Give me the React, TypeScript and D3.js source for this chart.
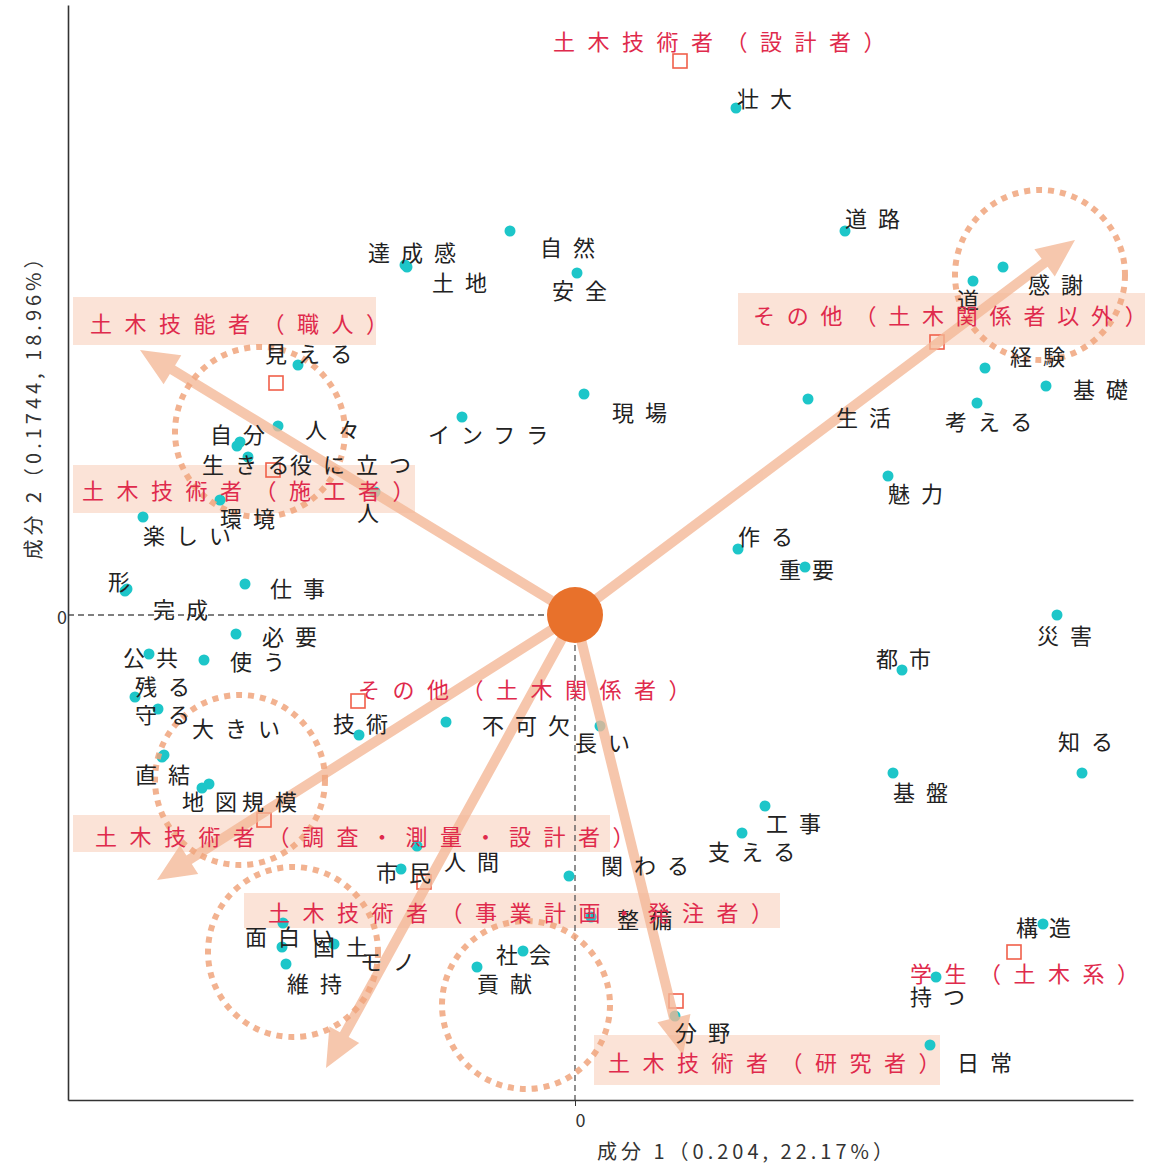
import { useEffect, useRef } from "react";
import * as d3 from "d3";

const WIDTH = 1151;
const HEIGHT = 1165;

// terms (teal points): component 1 / component 2 scores
const words = [
  "壮大", "道路", "達成感", "土地", "自然", "安全", "見える", "人々", "自分", "生きる",
  "役に立つ", "人", "環境", "楽しい", "インフラ", "現場", "生活", "考える", "経験", "基礎",
  "感謝", "道", "魅力", "作る", "重要", "形", "仕事", "完成", "必要", "公共",
  "使う", "残る", "守る", "大きい", "直結", "地図", "規模", "技術", "不可欠", "長い",
  "市民", "人間", "関わる", "支える", "工事", "整備", "社会", "貢献", "面白い", "国土",
  "モノ", "維持", "分野", "日常", "持つ", "構造", "基盤", "知る", "都市", "災害",
];
const wordX = [
  0.805, 1.35, -0.85, -0.84, -0.325, 0.01, -1.385, -1.485, -1.69, -1.635,
  -1.675, -1.0, -1.775, -2.16, -0.565, 0.045, 1.165, 2.01, 2.05, 2.355,
  2.14, 1.99, 1.565, 0.815, 1.15, -2.25, -1.65, -2.24, -1.695, -2.13,
  -1.855, -2.2, -2.085, -2.055, -2.065, -1.865, -1.83, -1.08, -0.645, 0.125,
  -0.87, -0.79, -0.03, 0.835, 0.95, 0.08, -0.26, -0.49, -1.46, -1.465,
  -1.205, -1.445, 0.5, 1.775, 1.805, 2.34, 1.59, 2.535, 1.635, 2.41,
];
const wordY = [
  2.535, 1.92, 1.75, 1.74, 1.92, 1.71, 1.25, 0.945, 0.845, 0.79,
  0.865, 0.615, 0.575, 0.49, 0.99, 1.105, 1.08, 1.06, 1.235, 1.145,
  1.74, 1.67, 0.695, 0.33, 0.24, 0.12, 0.155, 0.13, -0.095, -0.195,
  -0.225, -0.41, -0.47, -0.7, -0.71, -0.865, -0.845, -0.6, -0.535, -0.555,
  -1.27, -1.155, -1.305, -1.09, -0.955, -1.51, -1.68, -1.76, -1.54, -1.66,
  -1.645, -1.745, -2.005, -2.15, -1.81, -1.545, -0.79, -0.79, -0.275, 0.0,
];

// respondent groups (red squares)
const categories = [
  "土木技術者（設計者）",
  "土木技能者（職人）",
  "土木技術者（施工者）",
  "その他（土木関係者以外）",
  "その他（土木関係者）",
  "土木技術者（調査・測量・設計者）",
  "土木技術者（事業計画・発注者）",
  "土木技術者（研究者）",
  "学生（土木系）",
];
const categoryX = [0.525, -1.495, -1.51, 1.81, -1.085, -1.555, -0.755, 0.505, 2.195];
const categoryY = [2.77, 1.16, 0.725, 1.365, -0.43, -1.025, -1.335, -1.93, -1.685];

const xTitle = "成分 1（0.204,  22.17%）";
const yTitle = "成分 2（0.1744,  18.96%）";

// annotations drawn over the map
const arrowTips = [
  { x: -2.175, y: 1.325 },
  { x: 2.5, y: 1.875 },
  { x: -2.09, y: -1.325 },
  { x: -1.245, y: -2.265 },
  { x: 0.54, y: -2.2 },
];
const rings = [
  { x: -1.575, y: 0.915, r: 0.425 },
  { x: 2.325, y: 1.7, r: 0.425 },
  { x: -1.675, y: -0.825, r: 0.425 },
  { x: -1.41, y: -1.685, r: 0.425 },
  { x: -0.245, y: -1.95, r: 0.42 },
];
const bands = [
  { x0: -2.51, x1: -0.995, y0: 1.59, y1: 1.35 },
  { x0: -2.51, x1: -0.8, y0: 0.75, y1: 0.51 },
  { x0: 0.815, x1: 2.85, y0: 1.61, y1: 1.35 },
  { x0: -2.51, x1: 0.175, y0: -1.0, y1: -1.185 },
  { x0: -1.655, x1: 1.025, y0: -1.39, y1: -1.565 },
  { x0: 0.095, x1: 1.825, y0: -2.1, y1: -2.35 },
];

// label placement (pixel offset of the text start from its point)
const wordNudge: Record<string, [number, number]> = {
  壮大: [1, -11], 道路: [0, -14], 達成感: [-37, -14], 土地: [25, 14], 自然: [30, 15],
  安全: [-25, 16], 見える: [-33, -13], 人々: [27, 2], 自分: [-27, -13], 生きる: [-46, 6],
  役に立つ: [50, 21], 人: [-18, 19], 環境: [0, 17], 楽しい: [0, 17], インフラ: [-34, 16],
  現場: [28, 17], 生活: [28, 17], 考える: [-32, 17], 経験: [25, -13], 基礎: [27, 2],
  感謝: [25, 16], 道: [-16, 17], 魅力: [0, 16], 作る: [0, -14], 重要: [-26, 1],
  形: [-17, -11], 仕事: [25, 3], 完成: [26, 19], 必要: [26, 1], 公共: [-26, 2],
  使う: [26, 0], 残る: [0, -12], 守る: [-23, 4], 大きい: [28, -28], 直結: [-27, 16],
  地図: [-20, 12], 規模: [33, 16], 技術: [-26, -13], 不可欠: [36, 2], 長い: [-25, 15],
  市民: [-25, 2], 人間: [27, 14], 関わる: [32, -12], 支える: [-34, 17], 工事: [1, 16],
  整備: [26, 1], 社会: [-27, 2], 貢献: [0, 15], 面白い: [-38, 12], 国土: [31, -2],
  モノ: [26, 16], 維持: [1, 18], 分野: [0, 15], 日常: [27, 16], 持つ: [-26, 18],
  構造: [-27, 2], 基盤: [0, 18], 知る: [-24, -33], 都市: [-26, -13], 災害: [-20, 19],
};
const categoryNudge: [number, number][] = [
  [-127, -21], [-186, -61], [-191, 19], [-184, -28], [0, -13],
  [-169, 15], [-156, 29], [-68, 60], [-104, 20],
];
// the group label that runs to the right edge gets a slightly tighter spacing
const categorySpacing = [12.5, 12.5, 12.5, 11.8, 12.5, 12.5, 12.5, 12.5, 12.5];

const FONT = '"Noto Sans CJK JP", "Noto Sans", sans-serif';

export default function App() {
  const svgRef = useRef<SVGSVGElement>(null);

  useEffect(() => {
    if (!svgRef.current) return;
    const svg = d3.select(svgRef.current);
    svg.selectAll("*").remove();

    const x = d3.scaleLinear().domain([-2.535, 2.79]).range([68, 1133]);
    const y = d3.scaleLinear().domain([-2.425, 3.05]).range([1100, 5]);
    const ox = x(0);
    const oy = y(0);

    const wordData = words.map((word, i) => ({ word, x: wordX[i], y: wordY[i] }));
    const catData = categories.map((label, i) => ({ label, x: categoryX[i], y: categoryY[i], i }));

    // highlight bands
    svg
      .append("g")
      .selectAll("rect")
      .data(bands)
      .join("rect")
      .attr("x", (b) => x(b.x0))
      .attr("y", (b) => y(b.y0))
      .attr("width", (b) => x(b.x1) - x(b.x0))
      .attr("height", (b) => y(b.y1) - y(b.y0))
      .attr("fill", "#fbe3d7");

    // zero reference lines
    svg
      .append("line")
      .attr("x1", x.range()[0])
      .attr("x2", ox)
      .attr("y1", oy)
      .attr("y2", oy)
      .attr("stroke", "#555")
      .attr("stroke-width", 1.3)
      .attr("stroke-dasharray", "6,4");
    svg
      .append("line")
      .attr("x1", ox)
      .attr("x2", ox)
      .attr("y1", oy)
      .attr("y2", y.range()[0])
      .attr("stroke", "#555")
      .attr("stroke-width", 1.3)
      .attr("stroke-dasharray", "6,4");

    // axes
    svg
      .append("g")
      .attr("transform", `translate(0,${y.range()[0]})`)
      .call(
        d3.axisBottom(x).tickValues([0]).tickFormat(d3.format("d")).tickSizeOuter(0).tickSizeInner(6).tickPadding(8)
      )
      .call((g) => g.select("path").attr("stroke", "#333").attr("stroke-width", 1.6))
      .call((g) => g.selectAll("line").attr("stroke", "#333"))
      .call((g) =>
        g.selectAll("text").attr("font-size", 18).attr("font-family", FONT).attr("fill", "#333").attr("dx", 5)
      );
    svg
      .append("g")
      .attr("transform", `translate(${x.range()[0]},0)`)
      .call(d3.axisLeft(y).tickValues([0]).tickFormat(d3.format("d")).tickSizeOuter(0).tickSizeInner(0).tickPadding(1))
      .call((g) => g.select("path").attr("stroke", "#333").attr("stroke-width", 1.6))
      .call((g) =>
        g.selectAll("text").attr("font-size", 18).attr("font-family", FONT).attr("fill", "#333").attr("dy", "0.45em")
      );

    svg
      .append("text")
      .attr("x", 747)
      .attr("y", 1150)
      .attr("text-anchor", "middle")
      .attr("dominant-baseline", "central")
      .attr("font-family", FONT)
      .attr("font-size", 20)
      .attr("letter-spacing", 4)
      .attr("fill", "#333")
      .text(xTitle);
    svg
      .append("text")
      .attr("transform", "translate(32,402) rotate(-90)")
      .attr("text-anchor", "middle")
      .attr("dominant-baseline", "central")
      .attr("font-family", FONT)
      .attr("font-size", 20)
      .attr("letter-spacing", 4)
      .attr("fill", "#333")
      .text(yTitle);

    // term points
    svg
      .append("g")
      .selectAll("circle")
      .data(wordData)
      .join("circle")
      .attr("cx", (d) => x(d.x))
      .attr("cy", (d) => y(d.y))
      .attr("r", 5.5)
      .attr("fill", "#1dc6c9");

    // group points
    svg
      .append("g")
      .selectAll("rect")
      .data(catData)
      .join("rect")
      .attr("x", (d) => x(d.x) - 7)
      .attr("y", (d) => y(d.y) - 7)
      .attr("width", 14)
      .attr("height", 14)
      .attr("fill", "none")
      .attr("stroke", "#f0604a")
      .attr("stroke-width", 1.6);

    // arrows from the origin
    const arrowPath = (tip: { x: number; y: number }) => {
      const tx = x(tip.x);
      const ty = y(tip.y);
      const len = Math.hypot(tx - ox, ty - oy);
      const ux = (tx - ox) / len;
      const uy = (ty - oy) / len;
      const nx = -uy;
      const ny = ux;
      const head = 38;
      const half = 5;
      const wing = 17;
      const bx = tx - ux * head;
      const by = ty - uy * head;
      const pts = [
        [ox + nx * half, oy + ny * half],
        [bx + nx * half, by + ny * half],
        [bx + nx * wing, by + ny * wing],
        [tx, ty],
        [bx - nx * wing, by - ny * wing],
        [bx - nx * half, by - ny * half],
        [ox - nx * half, oy - ny * half],
      ];
      return "M" + pts.map((p) => p.join(",")).join("L") + "Z";
    };
    svg
      .append("g")
      .attr("opacity", 0.78)
      .selectAll("path")
      .data(arrowTips)
      .join("path")
      .attr("d", arrowPath)
      .attr("fill", "#f4b796");

    // dotted cluster rings
    svg
      .append("g")
      .selectAll("circle")
      .data(rings)
      .join("circle")
      .attr("cx", (d) => x(d.x))
      .attr("cy", (d) => y(d.y))
      .attr("r", (d) => x(d.r) - x(0))
      .attr("fill", "none")
      .attr("stroke", "#f0a47c")
      .attr("stroke-width", 6)
      .attr("stroke-dasharray", "6,6")
      .attr("opacity", 0.85);

    // origin marker
    svg.append("circle").attr("cx", ox).attr("cy", oy).attr("r", 28).attr("fill", "#e8712b");

    // term labels
    svg
      .append("g")
      .selectAll("text")
      .data(wordData)
      .join("text")
      .attr("x", (d) => x(d.x) + (wordNudge[d.word] || [8, 0])[0])
      .attr("y", (d) => y(d.y) + (wordNudge[d.word] || [8, 0])[1])
      .attr("dominant-baseline", "central")
      .attr("font-family", FONT)
      .attr("font-size", 22)
      .attr("letter-spacing", 11)
      .attr("fill", "#222")
      .text((d) => d.word);

    // group labels
    svg
      .append("g")
      .selectAll("text")
      .data(catData)
      .join("text")
      .attr("x", (d) => x(d.x) + categoryNudge[d.i][0])
      .attr("y", (d) => y(d.y) + categoryNudge[d.i][1])
      .attr("dominant-baseline", "central")
      .attr("font-family", FONT)
      .attr("font-size", 22)
      .attr("letter-spacing", (d) => categorySpacing[d.i])
      .attr("fill", "#df2a4c")
      .text((d) => d.label);
  }, []);

  return (
    <svg
      ref={svgRef}
      width={WIDTH}
      height={HEIGHT}
      style={{ position: "absolute", left: 0, top: 0, background: "#fff" }}
    />
  );
}
